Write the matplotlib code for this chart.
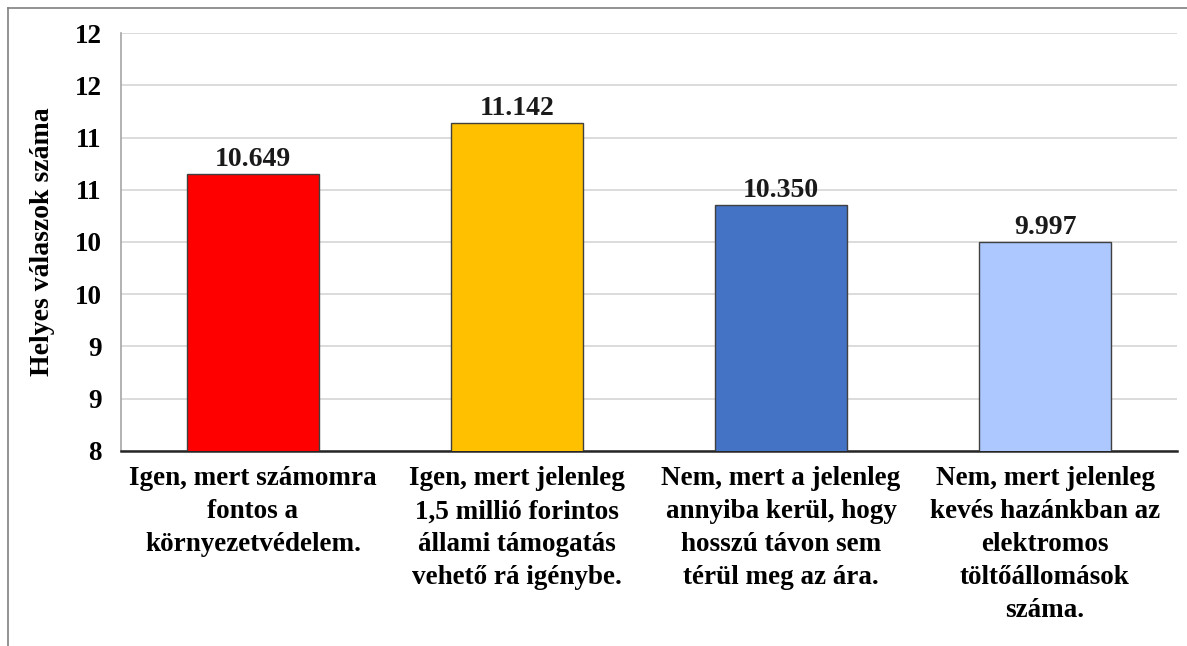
import matplotlib.pyplot as plt

# data
categories = [
    "Igen, mert számomra\nfontos a\nkörnyezetvédelem.",
    "Igen, mert jelenleg\n1,5 millió forintos\nállami támogatás\nvehető rá igénybe.",
    "Nem, mert a jelenleg\nannyiba kerül, hogy\nhosszú távon sem\ntérül meg az ára.",
    "Nem, mert jelenleg\nkevés hazánkban az\nelektromos\ntöltőállomások\nszáma.",
]
values = [10.649, 11.142, 10.350, 9.997]
value_labels = ["10.649", "11.142", "10.350", "9.997"]
y_ticks = [8, 8.5, 9, 9.5, 10, 10.5, 11, 11.5, 12]
y_tick_labels = ["8", "9", "9", "10", "10", "11", "11", "12", "12"]
colors = ["#FF0000", "#FFC000", "#4472C4", "#ADC8FF"]

plt.rcParams["font.family"] = ["Liberation Serif", "DejaVu Serif"]

fig = plt.figure(figsize=(11.87, 6.46), dpi=100, facecolor="white")
ax = fig.add_axes([0.1019, 0.3019, 0.8897, 0.647])

x = range(len(values))
ax.bar(x, values, width=0.5, bottom=0, color=colors, edgecolor="#404040",
       linewidth=1.0, zorder=3)

for xi, v, lab in zip(x, values, value_labels):
    ax.text(xi, v + 0.02, lab, ha="center", va="bottom", fontsize=20,
            fontweight="bold", color="#1a1a1a", zorder=4)

ax.set_ylim(8, 12)
ax.set_xlim(-0.5, 3.5)
ax.set_yticks(y_ticks)
ax.set_yticklabels(y_tick_labels, fontsize=19.5, fontweight="bold")
ax.set_xticks(list(x))
ax.set_xticklabels(categories, fontsize=19.5, fontweight="bold",
                   linespacing=1.42, va="top")
ax.tick_params(axis="both", length=0)
ax.tick_params(axis="y", pad=14)
ax.tick_params(axis="x", pad=11)
ax.grid(True, axis="y", color="#D9D9D9", linewidth=1.3, zorder=0)
ax.set_axisbelow(True)

ax.spines["top"].set_visible(False)
ax.spines["right"].set_visible(False)
ax.spines["left"].set_color("#A6A6A6")
ax.spines["left"].set_linewidth(1.2)
ax.spines["bottom"].set_color("#262626")
ax.spines["bottom"].set_linewidth(1.8)

ax.set_ylabel("Helyes válaszok száma", fontsize=20, fontweight="bold",
              labelpad=14)

# outer frame (top and left edges)
fig.add_artist(plt.Line2D([8 / 1187, 1.0], [1 - 8 / 646, 1 - 8 / 646],
                          transform=fig.transFigure, color="#808080", linewidth=1.2))
fig.add_artist(plt.Line2D([8 / 1187, 8 / 1187], [0.0, 1 - 8 / 646],
                          transform=fig.transFigure, color="#808080", linewidth=1.2))

fig.savefig("out.png", dpi=100, facecolor="white")
